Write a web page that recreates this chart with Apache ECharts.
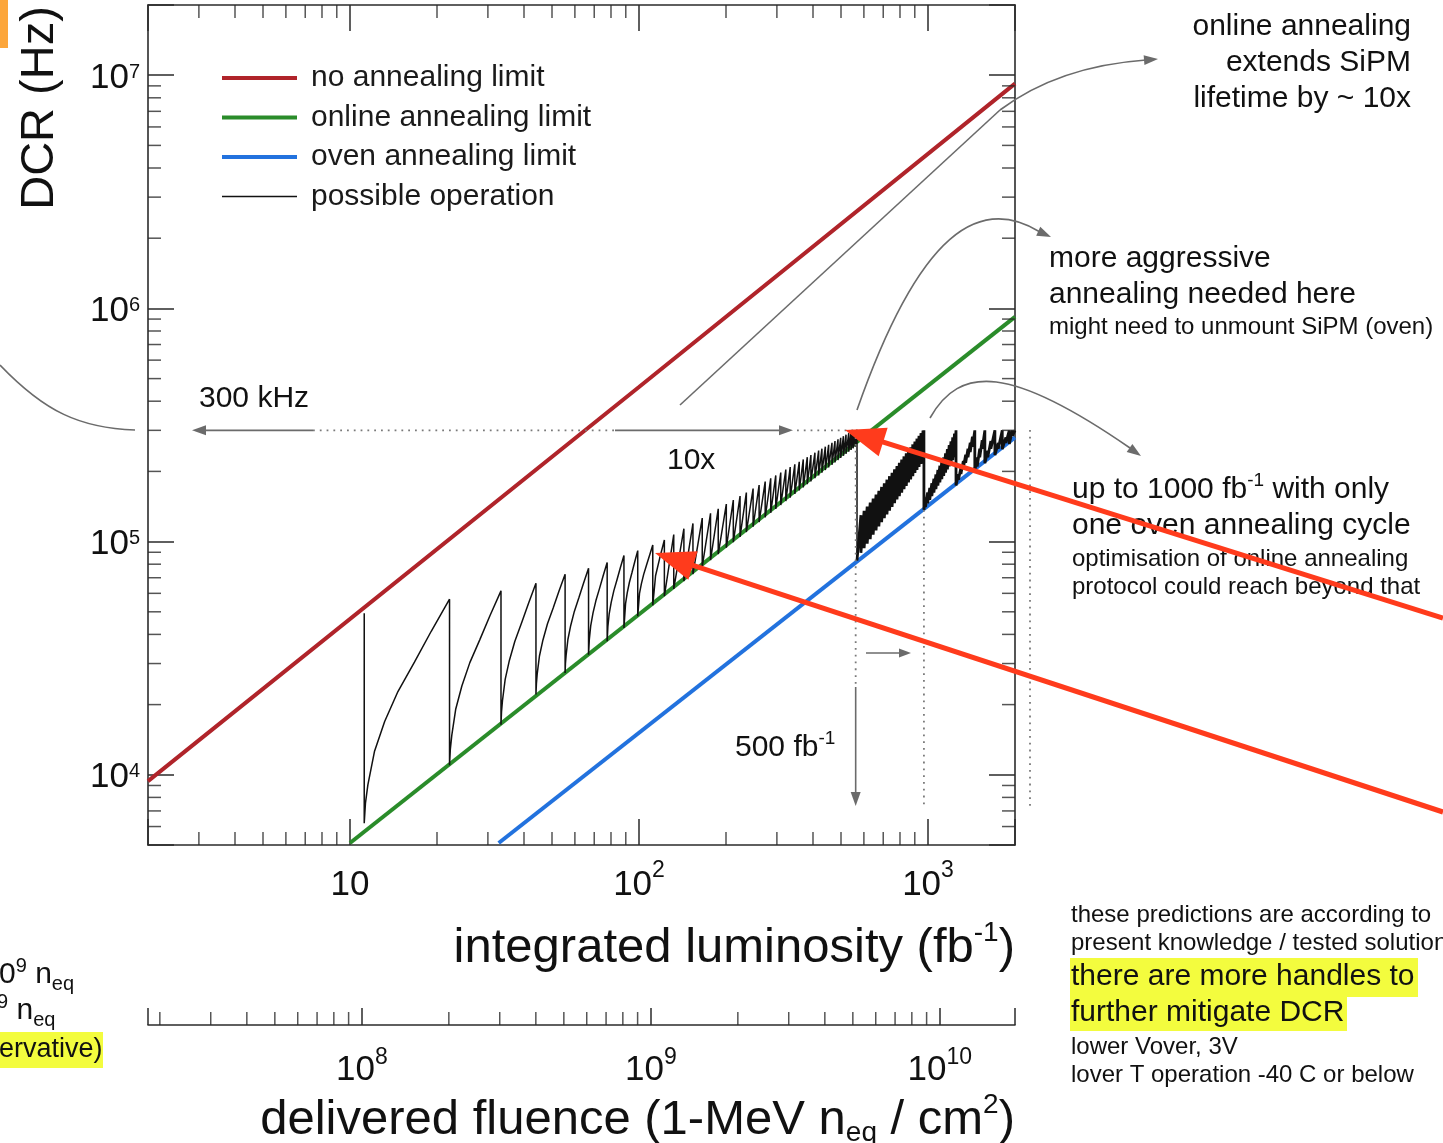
<!DOCTYPE html>
<html>
<head>
<meta charset="utf-8">
<script src="https://cdn.jsdelivr.net/npm/echarts@6/dist/echarts.min.js"></script>
<style>
html,body{margin:0;padding:0;background:#fff;}
#chart{width:1443px;height:1143px;}
</style>
</head>
<body>
<div id="chart"></div>
<script>
// ---------------- data ----------------
const lumiRange = [2, 2000];            // integrated luminosity (fb^-1)
const dcrRange = [5000, 2e7];           // DCR (Hz)
const fluenceRange = [1.82e7, 1.82e10]; // delivered fluence (1-MeV neq / cm2)

const lumiMajorTicks = [10, 100, 1000];
const dcrMajorTicks = [1e4, 1e5, 1e6, 1e7];
const fluenceMajorTicks = [1e8, 1e9, 1e10];
const lumiMinorTicks = [3,4,5,6,7,8,9,20,30,40,50,60,70,80,90,200,300,400,500,600,700,800,900];
const dcrMinorTicks = [6e3,7e3,8e3,9e3,2e4,3e4,4e4,5e4,6e4,7e4,8e4,9e4,2e5,3e5,4e5,5e5,6e5,7e5,8e5,9e5,2e6,3e6,4e6,5e6,6e6,7e6,8e6,9e6];
const fluenceMinorTicks = [2e7,3e7,4e7,5e7,6e7,7e7,8e7,9e7,2e8,3e8,4e8,5e8,6e8,7e8,8e8,9e8,2e9,3e9,4e9,5e9,6e9,7e9,8e9,9e9];

const seriesNames = ['no annealing limit', 'online annealing limit', 'oven annealing limit', 'possible operation'];

const noAnnealingLimit = [[2, 9.4e3], [100, 4.6e5], [2000, 9.2e6]];
const onlineAnnealingLimit = [[10, 5.1e3], [2000, 9.2e5]];
const ovenAnnealingLimit = [[32.7, 5.1e3], [2000, 2.8e5]];

const limitDCR = 3e5;        // 300 kHz
const firstOvenLumi = 562;   // ~500 fb^-1 marker
const secondOvenLumi = 968;  // ~1000 fb^-1 marker

// possible operation, online-annealing cycles only (up to the 300 kHz limit)
const operationOnline = [
  [11.2, 4.93e4], [11.2, 6.2e3], [11.31, 7.56e3], [11.53, 9.05e3], [12.15, 1.258e4], [13.18, 1.692e4], [14.65, 2.276e4], [16.73, 3.048e4], [19.1, 4.126e4], [22.1, 5.66e4],
  [22.1, 1.1e4], [22.24, 1.285e4], [22.5, 1.477e4], [23.21, 1.909e4], [24.38, 2.403e4], [25.98, 3.027e4], [28.14, 3.8e4], [30.49, 4.81e4], [33.3, 6.15e4],
  [33.3, 1.64e4], [33.44, 1.859e4], [33.7, 2.082e4], [34.43, 2.565e4], [35.6, 3.093e4], [37.17, 3.728e4], [39.25, 4.483e4], [41.45, 5.428e4], [44.0, 6.63e4],
  [44.0, 2.21e4], [44.16, 2.459e4], [44.44, 2.707e4], [45.24, 3.231e4], [46.52, 3.787e4], [48.23, 4.441e4], [50.47, 5.194e4], [52.8, 6.109e4], [55.5, 7.24e4],
  [55.5, 2.73e4], [55.65, 2.998e4], [55.95, 3.26e4], [56.75, 3.803e4], [58.04, 4.37e4], [59.74, 5.02e4], [61.97, 5.754e4], [64.27, 6.63e4], [66.9, 7.69e4],
  [66.9, 3.27e4], [67.33, 3.82e4], [68.1, 4.377e4], [69.33, 4.944e4], [70.95, 5.587e4], [73.03, 6.3e4], [75.16, 7.137e4], [77.6, 8.13e4],
  [77.6, 3.74e4], [78.05, 4.323e4], [78.86, 4.903e4], [80.13, 5.49e4], [81.81, 6.149e4], [83.97, 6.875e4], [86.18, 7.72e4], [88.7, 8.71e4],
  [88.7, 4.26e4], [89.87, 5.44e4], [91.05, 6.027e4], [92.61, 6.677e4], [94.62, 7.386e4], [96.67, 8.2e4], [99.0, 9.15e4],
  [99.0, 4.79e4], [100.4, 5.998e4], [101.9, 6.59e4], [103.8, 7.237e4], [106.2, 7.94e4], [108.8, 8.746e4], [111.6, 9.67e4],
  [111.6, 5.33e4], [114.1, 7.14e4], [117.9, 8.48e4], [122.4, 1.016e5],
  [122.4, 5.83e4], [131.9, 1.072e5], [131.9, 6.27e4], [143, 1.136e5], [143, 6.77e4], [153.7, 1.196e5], [153.7, 7.26e4],
  [165.5, 1.262e5], [165.5, 7.81e4], [176.8, 1.323e5], [176.8, 8.33e4], [188, 1.383e5], [188, 8.84e4], [200.5, 1.448e5], [200.5, 9.41e4],
  [212, 1.508e5], [212, 9.94e4], [223.7, 1.567e5], [223.7, 1.047e5], [235.2, 1.624e5], [235.2, 1.099e5], [248.2, 1.688e5], [248.2, 1.158e5],
  [260.4, 1.747e5], [260.4, 1.213e5], [273.3, 1.809e5], [273.3, 1.271e5], [285.6, 1.868e5], [285.6, 1.328e5], [297.3, 1.922e5], [297.3, 1.38e5],
  [309.4, 1.978e5], [309.4, 1.435e5], [322.1, 2.036e5], [322.1, 1.492e5], [333.6, 2.088e5], [333.6, 1.544e5], [346.1, 2.144e5], [346.1, 1.6e5],
  [358.5, 2.199e5], [358.5, 1.656e5], [370.2, 2.25e5], [370.2, 1.708e5], [382.2, 2.302e5], [382.2, 1.762e5], [393.4, 2.35e5], [393.4, 1.812e5],
  [406.2, 2.405e5], [406.2, 1.869e5], [418.4, 2.456e5], [418.4, 1.923e5], [429.5, 2.503e5], [429.5, 1.974e5], [441.3, 2.553e5], [441.3, 2.027e5],
  [453.1, 2.602e5], [453.1, 2.08e5], [465.3, 2.651e5], [465.3, 2.134e5], [476.6, 2.697e5], [476.6, 2.184e5], [488.2, 2.744e5], [488.2, 2.236e5],
  [498.8, 2.787e5], [498.8, 2.283e5], [509.7, 2.831e5], [509.7, 2.332e5], [520.4, 2.873e5], [520.4, 2.379e5], [531.8, 2.918e5], [531.8, 2.429e5],
  [541.7, 2.957e5], [541.7, 2.473e5], [550.4, 2.991e5], [550.4, 2.511e5], [560, 3.0e5], [560, 2.55e5], [568, 3.02e5], [568, 8.3e4]
];

// possible operation after oven annealing (dense online cycles + oven cycles)
const operationOven = [
  [568, 8.3e4],
  [586, 1.298e5], [586, 8.95e4], [601, 1.355e5], [601, 9.38e4], [616, 1.413e5], [616, 9.81e4], [631, 1.471e5], [631, 1.025e5],
  [646, 1.53e5], [646, 1.07e5], [661, 1.591e5], [661, 1.116e5], [676, 1.652e5], [676, 1.163e5], [691, 1.715e5], [691, 1.211e5],
  [706, 1.778e5], [706, 1.259e5], [721, 1.843e5], [721, 1.309e5], [736, 1.908e5], [736, 1.359e5], [751, 1.974e5], [751, 1.41e5],
  [766, 2.041e5], [766, 1.462e5], [781, 2.11e5], [781, 1.515e5], [796, 2.178e5], [796, 1.568e5], [811, 2.248e5], [811, 1.623e5],
  [826, 2.319e5], [826, 1.679e5], [841, 2.39e5], [841, 1.735e5], [856, 2.463e5], [856, 1.792e5], [871, 2.536e5], [871, 1.849e5],
  [886, 2.61e5], [886, 1.908e5], [901, 2.685e5], [901, 1.968e5], [916, 2.762e5], [916, 2.028e5], [931, 2.838e5], [931, 2.089e5],
  [946, 2.917e5], [946, 2.151e5], [961, 2.995e5], [961, 2.214e5], [968, 3.0e5], [968, 1.37e5],
  [980, 1.55e5], [980, 1.406e5], [997, 1.624e5], [997, 1.459e5], [1014, 1.7e5], [1014, 1.512e5], [1031, 1.779e5], [1031, 1.567e5],
  [1048, 1.86e5], [1048, 1.623e5], [1065, 1.942e5], [1065, 1.678e5], [1082, 2.028e5], [1082, 1.736e5], [1099, 2.116e5], [1099, 1.795e5],
  [1116, 2.206e5], [1116, 1.854e5], [1133, 2.297e5], [1133, 1.914e5], [1150, 2.392e5], [1150, 1.976e5], [1167, 2.49e5], [1167, 2.039e5],
  [1184, 2.59e5], [1184, 2.103e5], [1201, 2.69e5], [1201, 2.167e5], [1218, 2.796e5], [1218, 2.233e5], [1235, 2.904e5], [1235, 2.3e5],
  [1250, 3.0e5], [1250, 1.74e5],
  [1275, 1.95e5], [1275, 1.843e5], [1300, 2.079e5], [1300, 1.95e5], [1325, 2.215e5], [1325, 2.062e5], [1350, 2.356e5], [1350, 2.177e5],
  [1375, 2.503e5], [1375, 2.297e5], [1400, 2.657e5], [1400, 2.421e5], [1425, 2.817e5], [1425, 2.55e5], [1452, 3.0e5], [1452, 2.01e5],
  [1480, 2.3e5], [1480, 2.1e5], [1510, 2.5e5], [1510, 2.3e5], [1540, 2.72e5], [1540, 2.5e5], [1573, 3.0e5], [1573, 2.17e5],
  [1610, 2.45e5], [1610, 2.3e5], [1650, 2.7e5], [1650, 2.5e5], [1704, 3.0e5], [1704, 2.35e5],
  [1750, 2.65e5], [1750, 2.5e5], [1807, 3.0e5], [1807, 2.49e5],
  [1860, 2.8e5], [1860, 2.65e5], [1911, 3.0e5], [1911, 2.62e5],
  [1960, 3.0e5], [1960, 2.85e5], [2000, 3.0e5]
];

// ---------------- styling ----------------
const FONT = "'Liberation Sans', Helvetica, Arial, sans-serif";
const AX = '#2b2b2b';
const RED = '#b0242a', GREEN = '#2a8c2a', BLUE = '#2272de', BLACK = '#111';

function decadeFormatter(majors, plainTen) {
  return function (v) {
    const hit = majors.find(m => Math.abs(Math.log10(v) - Math.log10(m)) < 1e-6);
    if (hit === undefined) return '';
    const e = Math.round(Math.log10(hit));
    if (plainTen && e === 1) return '10';
    return '10{sup|' + e + '}';
  };
}

function frameAxis(extra) {
  return Object.assign({
    axisLine: { onZero: false, lineStyle: { color: AX, width: 1.6 } },
    axisTick: { inside: true, length: 26, lineStyle: { color: AX, width: 1.5 } },
    splitLine: { show: false },
    minorTick: { show: false }
  }, extra);
}

function tickSeries(xi, yi, data, size, offset) {
  return {
    type: 'scatter', xAxisIndex: xi, yAxisIndex: yi, data: data,
    symbol: 'rect', symbolSize: size, symbolOffset: offset,
    itemStyle: { color: AX }, silent: true, clip: false, z: 4, legendHoverLink: false
  };
}

const chart = echarts.init(document.getElementById('chart'), null, { renderer: 'canvas', width: 1443, height: 1143 });

const option = {
  animation: false,
  backgroundColor: '#ffffff',
  textStyle: { fontFamily: FONT },
  grid: [
    { left: 148, top: 5, width: 867, height: 840 },
    { left: 148, top: 1000, width: 867, height: 25 }
  ],
  xAxis: [
    frameAxis({
      type: 'log', gridIndex: 0, min: lumiRange[0], max: lumiRange[1], position: 'bottom',
      axisLabel: {
        formatter: decadeFormatter(lumiMajorTicks, true), margin: 14, color: '#111',
        fontSize: 35, lineHeight: 52, fontFamily: FONT,
        rich: { sup: { fontSize: 23, lineHeight: 23, padding: [0, 0, 28, 0], verticalAlign: 'middle', fontFamily: FONT, color: '#111' } }
      }
    }),
    frameAxis({ type: 'log', gridIndex: 0, min: lumiRange[0], max: lumiRange[1], position: 'top', axisLabel: { show: false } }),
    frameAxis({
      type: 'log', gridIndex: 1, min: fluenceRange[0], max: fluenceRange[1], position: 'bottom',
      axisTick: { inside: true, length: 17, lineStyle: { color: AX, width: 1.5 } },
      axisLabel: {
        formatter: decadeFormatter(fluenceMajorTicks, false), margin: 19, color: '#111',
        fontSize: 35, lineHeight: 52, fontFamily: FONT,
        rich: { sup: { fontSize: 23, lineHeight: 23, padding: [0, 0, 24, 0], verticalAlign: 'middle', fontFamily: FONT, color: '#111' } }
      }
    })
  ],
  yAxis: [
    frameAxis({
      type: 'log', gridIndex: 0, min: dcrRange[0], max: dcrRange[1], position: 'left',
      axisLabel: {
        formatter: decadeFormatter(dcrMajorTicks, false), margin: 8, color: '#111',
        fontSize: 35, lineHeight: 40, fontFamily: FONT, padding: [6, 0, 0, 0],
        rich: { sup: { fontSize: 20, lineHeight: 20, padding: [0, 0, 12, 0], verticalAlign: 'middle', fontFamily: FONT, color: '#111' } }
      }
    }),
    frameAxis({ type: 'log', gridIndex: 0, min: dcrRange[0], max: dcrRange[1], position: 'right', axisLabel: { show: false } }),
    { type: 'value', gridIndex: 1, min: 0, max: 1, show: false }
  ],
  legend: {
    orient: 'vertical', left: 215, top: 58, itemWidth: 75, itemHeight: 14, itemGap: 9.5,
    selectedMode: false,
    itemStyle: { opacity: 0 },
    textStyle: { fontSize: 30, lineHeight: 30, color: '#1a1a1a', fontFamily: FONT, padding: [0, 0, 0, 9] },
    data: [
      { name: seriesNames[0], lineStyle: { width: 4, color: RED } },
      { name: seriesNames[1], lineStyle: { width: 4, color: GREEN } },
      { name: seriesNames[2], lineStyle: { width: 4, color: BLUE } },
      { name: seriesNames[3], lineStyle: { width: 1.3, color: BLACK } }
    ]
  },
  series: [
    { name: seriesNames[0], type: 'line', xAxisIndex: 0, yAxisIndex: 0, data: noAnnealingLimit, symbol: 'none', lineStyle: { color: RED, width: 4 }, itemStyle: { color: RED }, z: 2 },
    { name: seriesNames[1], type: 'line', xAxisIndex: 0, yAxisIndex: 0, data: onlineAnnealingLimit, symbol: 'none', lineStyle: { color: GREEN, width: 4 }, itemStyle: { color: GREEN }, z: 2 },
    { name: seriesNames[2], type: 'line', xAxisIndex: 0, yAxisIndex: 0, data: ovenAnnealingLimit, symbol: 'none', lineStyle: { color: BLUE, width: 4 }, itemStyle: { color: BLUE }, z: 2 },
    { name: seriesNames[3], type: 'line', xAxisIndex: 0, yAxisIndex: 0, data: operationOnline, symbol: 'none', lineStyle: { color: BLACK, width: 1.5 }, itemStyle: { color: BLACK }, z: 3 },
    { name: seriesNames[3], type: 'line', xAxisIndex: 0, yAxisIndex: 0, data: operationOven, symbol: 'none', lineStyle: { color: BLACK, width: 2.8 }, itemStyle: { color: BLACK }, z: 3 },
    tickSeries(0, 0, lumiMinorTicks.map(v => [v, dcrRange[0]]), [1.5, 13], [0, -6.5]),
    tickSeries(1, 0, lumiMinorTicks.map(v => [v, dcrRange[1]]), [1.5, 13], [0, 6.5]),
    tickSeries(0, 0, dcrMinorTicks.map(v => [lumiRange[0], v]), [13, 1.5], [6.5, 0]),
    tickSeries(0, 1, dcrMinorTicks.map(v => [lumiRange[1], v]), [13, 1.5], [-6.5, 0]),
    tickSeries(2, 2, fluenceMinorTicks.map(v => [v, 0]), [1.5, 13], [0, -6.5])
  ]
};

chart.setOption(option);

// ---------------- annotations ----------------
const P = (l, d) => chart.convertToPixel({ xAxisIndex: 0, yAxisIndex: 0 }, [l, d]);
const yLim = P(10, limitDCR)[1];
const x500 = P(firstOvenLumi, limitDCR)[0];
const x1000 = P(secondOvenLumi, limitDCR)[0];

const G = [];
const GREY = '#6b6b6b', DOT = '#7a7a7a', ARROWRED = '#ff3b1c', YELLOW = '#f3fc3e';
function line(x1, y1, x2, y2, stroke, w, dash, z) {
  G.push({ type: 'line', silent: true, z: z || 50, shape: { x1, y1, x2, y2 }, style: { stroke, lineWidth: w, lineDash: dash || null } });
}
function head(tx, ty, dx, dy, len, wid, fill, z) {
  const n = Math.hypot(dx, dy), ux = dx / n, uy = dy / n;
  const bx = tx - ux * len, by = ty - uy * len, px = -uy * wid / 2, py = ux * wid / 2;
  G.push({ type: 'polygon', silent: true, z: z || 50, shape: { points: [[tx, ty], [bx + px, by + py], [bx - px, by - py]] }, style: { fill } });
}
function curve(x1, y1, c1x, c1y, c2x, c2y, x2, y2, stroke, w) {
  G.push({ type: 'bezierCurve', silent: true, z: 50, shape: { x1, y1, cpx1: c1x, cpy1: c1y, cpx2: c2x, cpy2: c2y, x2, y2 }, style: { stroke, lineWidth: w, fill: null } });
}
function text(x, y, t, size, align, rich, extra) {
  G.push(Object.assign({ type: 'text', silent: true, z: 60, x, y,
    style: { text: t, fontSize: size, fontFamily: FONT, fill: '#111', align: align || 'left', verticalAlign: 'middle', rich: rich || {} } }, extra || {}));
}
function rect(x, y, w, h, fill) {
  G.push({ type: 'rect', silent: true, z: 40, shape: { x, y, width: w, height: h }, style: { fill } });
}
const supR = (fs, pb) => ({ sup: { fontSize: fs, lineHeight: fs, padding: [0, 0, pb, 0], verticalAlign: 'middle', fontFamily: FONT, fill: '#111' } });

// orange marker top-left
rect(0, 0, 8, 48, '#fca63b');
// axis titles
text(40.5, 108, 'DCR (Hz)', 47, 'center', null, { rotation: Math.PI / 2 });
text(1015, 948, 'integrated luminosity (fb{sup|-1})', 49, 'right', supR(28, 30));
text(1015, 1120, 'delivered fluence (1-MeV n{sub|eq} / cm{sup|2})', 49, 'right', Object.assign(supR(28, 30),
  { sub: { fontSize: 28, lineHeight: 28, padding: [26, 0, 0, 0], verticalAlign: 'middle', fontFamily: FONT, fill: '#111' } }));

// left pointer curve
curve(0, 365, 45, 412, 80, 428, 135, 430, GREY, 1.6);

// 300 kHz line with arrows
line(204, yLim, 313, yLim, GREY, 1.6);
head(192, yLim, -1, 0, 14, 10, GREY);
line(313, yLim, 615, yLim, DOT, 1.8, [1.8, 5]);
line(615, yLim, 780, yLim, GREY, 1.6);
head(793, yLim, 1, 0, 14, 10, GREY);
line(797, yLim, x500, yLim, DOT, 1.8, [1.8, 5]);
text(199, 399, '300 kHz', 30);
text(667, 461, '10x', 30);

// 500 fb-1 marker
line(x500, yLim, x500, 687, DOT, 1.8, [1.8, 5]);
line(x500, 687, x500, 793, GREY, 1.6);
head(x500, 806, 0, 1, 14, 10, GREY);
text(735, 748, '500 fb{sup|-1}', 30, 'left', supR(19, 18));
// 1000 fb-1 marker
line(x1000, 510, x1000, 806, DOT, 1.8, [1.8, 5]);
line(866, 653, 900, 653, GREY, 1.6);
head(911, 653, 1, 0, 12, 9, GREY);
line(1030, 430, 1030, 806, DOT, 1.8, [1.8, 5]);

// grey pointer curves
line(680, 405, 1000, 110, GREY, 1.6);
curve(1000, 110, 1040, 80, 1090, 64, 1146, 60, GREY, 1.6);
head(1158, 59, 1, -0.08, 14, 10, GREY);
curve(857, 410, 920, 230, 980, 195, 1040, 232, GREY, 1.6);
head(1051, 237, 1, 0.45, 14, 10, GREY);
curve(930, 418, 960, 365, 1010, 365, 1130, 448, GREY, 1.6);
head(1141, 456, 1, 0.7, 14, 10, GREY);

// right annotations
text(1411, 27, 'online annealing', 30, 'right');
text(1411, 63, 'extends SiPM', 30, 'right');
text(1411, 99, 'lifetime by ~ 10x', 30, 'right');
text(1049, 259, 'more aggressive', 30);
text(1049, 295, 'annealing needed here', 30);
text(1049, 327, 'might need to unmount SiPM (oven)', 24);
text(1072, 490, 'up to 1000 fb{sup|-1} with only', 30, 'left', supR(19, 18));
text(1072, 526, 'one oven annealing cycle', 30);
text(1072, 559, 'optimisation of online annealing', 24);
text(1072, 587, 'protocol could reach beyond that', 24);

// bottom-right notes
text(1071, 915, 'these predictions are according to', 24);
text(1071, 943, 'present knowledge / tested solutions', 24);
rect(1070, 958, 348, 39, YELLOW);
text(1071, 977, 'there are more handles to', 30);
rect(1070, 997, 277, 34, YELLOW);
text(1071, 1013, 'further mitigate DCR', 30);
text(1071, 1047, 'lower Vover, 3V', 24);
text(1071, 1075, 'lover T operation -40 C or below', 24);

// cut-off notes at the left edge
const subR = { sub: { fontSize: 20, lineHeight: 20, padding: [18, 0, 0, 0], verticalAlign: 'middle', fontFamily: FONT, fill: '#111' } };
text(-1, 975, '0{sup|9} n{sub|eq}', 30, 'left', Object.assign(supR(20, 18), subR));
text(-3, 1011, '{sup|9} n{sub|eq}', 30, 'left', Object.assign(supR(20, 18), subR));
rect(0, 1032, 103, 36, YELLOW);
text(-1, 1050, 'ervative)', 27);

// red arrows
function redArrow(x1, y1, tx, ty) {
  const dx = tx - x1, dy = ty - y1, n = Math.hypot(dx, dy);
  const len = 40;
  line(x1, y1, tx - dx / n * (len - 4), ty - dy / n * (len - 4), ARROWRED, 5, null, 80);
  head(tx, ty, dx, dy, len, 30, ARROWRED, 80);
}
redArrow(1443, 618, 845, 430);
redArrow(1443, 812, 655, 553);

chart.setOption({ graphic: { elements: G } });
</script>
</body>
</html>
